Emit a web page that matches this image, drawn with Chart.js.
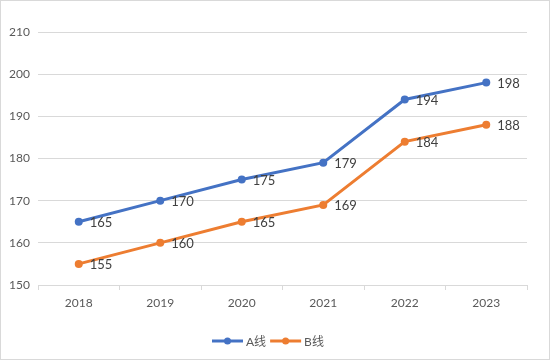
<!DOCTYPE html>
<html><head><meta charset="utf-8">
<script src="https://cdn.jsdelivr.net/npm/chart.js@4/dist/chart.umd.min.js"></script>
<style>
html,body{margin:0;padding:0;background:#fff;}
#wrap{position:absolute;left:0;top:0;width:548px;height:358px;border:1px solid #d9d9d9;}
canvas{display:block;}
</style></head>
<body><div id="wrap"><canvas id="c" width="548" height="358"></canvas></div>
<script>
const categories = ['2018','2019','2020','2021','2022','2023'];
const seriesNames = ['A线','B线'];
const seriesA = [165,170,175,179,194,198];
const seriesB = [155,160,165,169,184,188];
const yTicks = {min:150, max:210, step:10};

const FONT = "Lato, 'Noto Sans CJK SC', sans-serif";
const colors = ['#4472C4','#ED7D31'];

const labelPlugin = {
  id:'labels',
  afterDatasetsDraw(chart){
    const ctx = chart.ctx;
    ctx.save();
    ctx.font = "13px " + FONT;
    ctx.fillStyle = '#404040';
    ctx.textAlign = 'left';
    ctx.textBaseline = 'middle';
    chart.data.datasets.forEach((ds,i)=>{
      const meta = chart.getDatasetMeta(i);
      meta.data.forEach((pt,j)=>{
        ctx.fillText(String(ds.data[j]), pt.x + 11, pt.y + 1);
      });
    });
    ctx.restore();
  }
};

const legendPlugin = {
  id:'customLegend',
  afterDraw(chart){
    const ctx = chart.ctx;
    ctx.save();
    ctx.font = "12px " + FONT;
    ctx.textBaseline = 'middle';
    ctx.textAlign = 'left';
    const y = 340;
    let x = 211;
    chart.data.datasets.forEach((ds,i)=>{
      ctx.strokeStyle = ds.borderColor;
      ctx.lineWidth = 3;
      ctx.beginPath(); ctx.moveTo(x, y); ctx.lineTo(x+31, y); ctx.stroke();
      ctx.fillStyle = ds.borderColor;
      ctx.beginPath(); ctx.arc(x+15.5, y, 3.5, 0, Math.PI*2); ctx.fill();
      ctx.fillStyle = '#595959';
      ctx.fillText(ds.label, x+34, y+1);
      x += 34 + ctx.measureText(ds.label).width + 4;
    });
    ctx.restore();
  }
};

new Chart(document.getElementById('c'), {
  type:'line',
  data:{
    labels: categories,
    datasets:[
      {label: seriesNames[0], data: seriesA, borderColor: colors[0], backgroundColor: colors[0], borderWidth:3, pointRadius:4, pointBackgroundColor: colors[0], pointBorderWidth:0, tension:0},
      {label: seriesNames[1], data: seriesB, borderColor: colors[1], backgroundColor: colors[1], borderWidth:3, pointRadius:4, pointBackgroundColor: colors[1], pointBorderWidth:0, tension:0}
    ]
  },
  options:{
    responsive:false,
    animation:false,
    layout:{padding:{left:0, right:22, top:31, bottom:44}},
    plugins:{legend:{display:false}, tooltip:{enabled:false}},
    scales:{
      x:{
        offset:true,
        grid:{display:true, drawOnChartArea:false, drawTicks:true, tickLength:5, offset:true, color:'#d9d9d9'},
        border:{display:true, color:'#d9d9d9', width:1},
        ticks:{font:{family:FONT, size:12}, color:'#595959', padding:6},
        afterFit(s){ s.height = 30; }
      },
      y:{
        min: yTicks.min, max: yTicks.max,
        ticks:{stepSize: yTicks.step, font:{family:FONT, size:12}, color:'#595959', padding:8},
        grid:{color:'#d9d9d9', drawTicks:false},
        border:{display:false},
        afterFit(s){ s.width = 37; }
      }
    }
  },
  plugins:[labelPlugin, legendPlugin]
});
</script></body></html>
